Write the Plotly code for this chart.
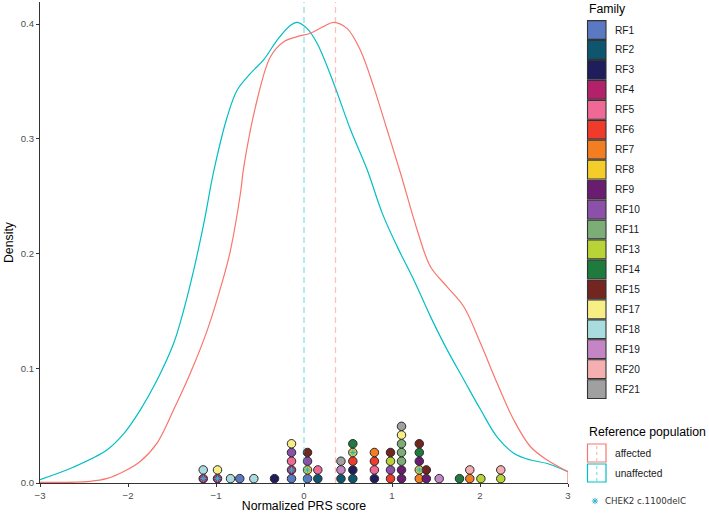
import plotly.graph_objects as go

# ---------------- data ----------------
families = ["RF1", "RF2", "RF3", "RF4", "RF5", "RF6", "RF7", "RF8", "RF9", "RF10",
            "RF11", "RF13", "RF14", "RF15", "RF17", "RF18", "RF19", "RF20", "RF21"]
family_colors = ["#5A79C2", "#0E566F", "#1F1D5C", "#B3216A", "#EF6896", "#EE3B2B",
                 "#F37D21", "#F4CD2B", "#6A1D70", "#8B50A7", "#7CAD76", "#B7D335",
                 "#1F7A3D", "#73251F", "#F7EE85", "#A9DCDF", "#C385C3", "#F4AFB1",
                 "#A0A0A0"]
chek2_families = ["RF4", "RF8"]

# dot-plot columns (bin centre) and the families stacked in them, bottom to top
col_x = [-1.145, -0.983, -0.835, -0.73, -0.57, -0.335, -0.142, 0.04, 0.157, 0.42,
         0.555, 0.80, 0.983, 1.108, 1.31, 1.39, 1.536, 1.767, 1.884, 2.01, 2.236]
col_families = [
    ["RF4", "RF18"],
    ["RF4", "RF17"],
    ["RF18"],
    ["RF1"],
    ["RF18"],
    ["RF3"],
    ["RF1", "RF4", "RF5", "RF10", "RF17"],
    ["RF1", "RF8", "RF10", "RF15"],
    ["RF2", "RF5"],
    ["RF2", "RF19", "RF21"],
    ["RF2", "RF3", "RF6", "RF8", "RF14"],
    ["RF3", "RF5", "RF6", "RF7"],
    ["RF6", "RF10", "RF13", "RF15"],
    ["RF9", "RF9", "RF11", "RF11", "RF11", "RF17", "RF21"],
    ["RF7", "RF8", "RF9", "RF14", "RF15"],
    ["RF9", "RF15"],
    ["RF19"],
    ["RF14"],
    ["RF7", "RF20"],
    ["RF13"],
    ["RF13", "RF20"],
]
dot_step = 0.0076  # density units per stacked dot

# reference population densities
affected_x = [-3.0, -2.43, -2.236, -2.048, -1.858, -1.668, -1.48, -1.29, -1.1, -0.911,
              -0.835, -0.722, -0.684, -0.532, -0.381, -0.23, -0.077, 0.074, 0.225, 0.339,
              0.491, 0.642, 0.793, 0.945, 1.097, 1.286, 1.4375, 1.627, 1.816, 2.006,
              2.195, 2.384, 2.574, 2.764, 3.0]
affected_y = [0.0005, 0.0015, 0.004, 0.010, 0.019, 0.035, 0.064, 0.096, 0.133, 0.180,
              0.203, 0.2525, 0.2757, 0.334, 0.3715, 0.3846, 0.389, 0.392, 0.398, 0.4015,
              0.396, 0.377, 0.345, 0.3076, 0.270, 0.2205, 0.1885, 0.171, 0.1536, 0.1217,
              0.0869, 0.0549, 0.0316, 0.020, 0.0098]
unaffected_x = [-3.0, -2.616, -2.236, -2.048, -1.858, -1.668, -1.48, -1.366, -1.252, -1.139,
                -1.025, -0.873, -0.759, -0.608, -0.457, -0.305, -0.153, -0.077, 0.036, 0.15,
                0.339, 0.528, 0.718, 0.89, 1.059, 1.248, 1.4375, 1.627, 1.816, 2.006,
                2.195, 2.384, 2.574, 2.764, 3.0]
unaffected_y = [0.003, 0.014, 0.029, 0.043, 0.064, 0.090, 0.122, 0.151, 0.186, 0.226,
                0.272, 0.319, 0.3425, 0.357, 0.369, 0.386, 0.399, 0.4015, 0.396, 0.383,
                0.348, 0.308, 0.273, 0.235, 0.206, 0.177, 0.145, 0.116, 0.090, 0.064,
                0.040, 0.026, 0.020, 0.017, 0.0098]
affected_mean = 0.358
unaffected_mean = 0.0

x_ticks = [-3, -2, -1, 0, 1, 2, 3]
y_ticks = [0.0, 0.1, 0.2, 0.3, 0.4]

RED = "#F8766D"
CYAN = "#00BFC4"
STAR = "#2DB4C8"

# ---------------- figure ----------------
W, H = 709, 513
PL, PR, PT, PB = 40, 568, 2, 483


def fx(p):
    return (p - PL) / (PR - PL)


def fy(p):
    return (PB - p) / (PB - PT)


fig = go.Figure()

fig.add_trace(go.Scatter(x=unaffected_x, y=unaffected_y, mode="lines",
                         line=dict(color=CYAN, width=1.2, shape="spline"),
                         showlegend=False, hoverinfo="skip"))
fig.add_trace(go.Scatter(x=affected_x, y=affected_y, mode="lines",
                         line=dict(color=RED, width=1.2, shape="spline"),
                         showlegend=False, hoverinfo="skip"))
fig.add_trace(go.Scatter(x=[affected_x[-1], affected_x[-1]], y=[affected_y[-1], 0],
                         mode="lines", line=dict(color=RED, width=1.2),
                         showlegend=False, hoverinfo="skip"))

fig.add_vline(x=unaffected_mean, line=dict(color="rgba(0,191,196,0.45)", width=1.3, dash="6px,4px"))
fig.add_vline(x=affected_mean, line=dict(color="rgba(248,118,109,0.45)", width=1.3, dash="6px,4px"))

color_of = dict(zip(families, family_colors))
dx, dy, dc, sx, sy = [], [], [], [], []
for cx, fams in zip(col_x, col_families):
    for k, f in enumerate(fams):
        yv = (k + 0.5) * dot_step
        dx.append(cx)
        dy.append(yv)
        dc.append(color_of[f])
        if f in chek2_families:
            sx.append(cx)
            sy.append(yv)

fig.add_trace(go.Scatter(x=dx, y=dy, mode="markers",
                         marker=dict(size=8.5, color=dc, line=dict(color="#2a2a2a", width=1)),
                         showlegend=False, cliponaxis=False))
fig.add_trace(go.Scatter(x=sx, y=sy, mode="markers",
                         marker=dict(size=5.5, symbol="asterisk-open", color=STAR,
                                     line=dict(color=STAR, width=1)),
                         showlegend=False, cliponaxis=False))

# ---------------- manual legend ----------------
shapes = []
annos = []
LFONT = dict(family="Liberation Sans, Arial, sans-serif", size=10.2, color="#1a1a1a")
TFONT = dict(family="Liberation Sans, Arial, sans-serif", size=12.3, color="#000000")

annos.append(dict(x=fx(586.5), y=fy(9), xref="paper", yref="paper", text="Family",
                  showarrow=False, xanchor="left", yanchor="middle", font=TFONT))
for i, (f, c) in enumerate(zip(families, family_colors)):
    yc = 30 + 19.95 * i
    shapes.append(dict(type="rect", xref="paper", yref="paper",
                       x0=fx(587.5), x1=fx(606), y0=fy(yc + 9.4), y1=fy(yc - 9.4),
                       fillcolor=c, line=dict(color="#333333", width=1.1)))
    annos.append(dict(x=fx(612.5), y=fy(yc), xref="paper", yref="paper", text=f,
                      showarrow=False, xanchor="left", yanchor="middle", font=LFONT))

annos.append(dict(x=fx(586.5), y=fy(432), xref="paper", yref="paper", text="Reference population",
                  showarrow=False, xanchor="left", yanchor="middle", font=TFONT))
for yc, lab, col, light in [(453, "affected", RED, "rgba(248,118,109,0.5)"),
                            (473, "unaffected", CYAN, "rgba(0,191,196,0.5)")]:
    shapes.append(dict(type="rect", xref="paper", yref="paper",
                       x0=fx(587.5), x1=fx(606), y0=fy(yc + 9), y1=fy(yc - 9),
                       fillcolor="white", line=dict(color=col, width=1.2)))
    shapes.append(dict(type="line", xref="paper", yref="paper",
                       x0=fx(596.75), x1=fx(596.75), y0=fy(yc + 8), y1=fy(yc - 8),
                       line=dict(color=light, width=1.2, dash="3px,3px")))
    annos.append(dict(x=fx(612.5), y=fy(yc), xref="paper", yref="paper", text=lab,
                      showarrow=False, xanchor="left", yanchor="middle", font=LFONT))

# CHEK2 asterisk key
acx, acy, r = 595, 501, 3.2
for (ax0, ay0, ax1, ay1) in [(-r, 0, r, 0), (0, -r, 0, r), (-0.7 * r, -0.7 * r, 0.7 * r, 0.7 * r),
                             (-0.7 * r, 0.7 * r, 0.7 * r, -0.7 * r)]:
    shapes.append(dict(type="line", xref="paper", yref="paper",
                       x0=fx(acx + ax0), x1=fx(acx + ax1), y0=fy(acy + ay0), y1=fy(acy + ay1),
                       line=dict(color=STAR, width=1)))
annos.append(dict(x=fx(603), y=fy(501), xref="paper", yref="paper", text="CHEK2 c.1100delC",
                  showarrow=False, xanchor="left", yanchor="middle",
                  font=dict(family="DejaVu Sans, sans-serif", size=8.7, color="#333333")))

fig.update_layout(
    width=W, height=H,
    margin=dict(l=PL, r=W - PR, t=PT, b=H - PB, autoexpand=False),
    paper_bgcolor="white", plot_bgcolor="white",
    font=dict(family="Liberation Sans, Arial, sans-serif"),
    shapes=list(fig.layout.shapes) + shapes,
    annotations=annos,
    showlegend=False,
)
fig.update_xaxes(range=[-3, 3], tickvals=x_ticks, ticks="outside", ticklen=3,
                 tickcolor="#333333", tickwidth=1, showline=True, linecolor="#333333",
                 linewidth=1.1, showgrid=False, zeroline=False, automargin=False,
                 tickfont=dict(size=9.6, color="#4D4D4D"),
                 title=dict(text="Normalized PRS score", standoff=5,
                            font=dict(size=12.3, color="#000000")))
fig.update_yaxes(range=[0, 0.4192], tickvals=y_ticks, ticktext=[f"{v:.1f}" for v in y_ticks],
                 ticks="outside", ticklen=3, tickcolor="#333333", tickwidth=1, showline=True,
                 linecolor="#333333", linewidth=1.1, showgrid=False, zeroline=False,
                 automargin=False,
                 tickfont=dict(size=9.6, color="#4D4D4D"),
                 title=dict(text="Density", standoff=4, font=dict(size=12.3, color="#000000")))

fig.write_html("out.html", config={"displayModeBar": False},
               post_script="document.body.style.margin='0';document.body.style.padding='0';")
